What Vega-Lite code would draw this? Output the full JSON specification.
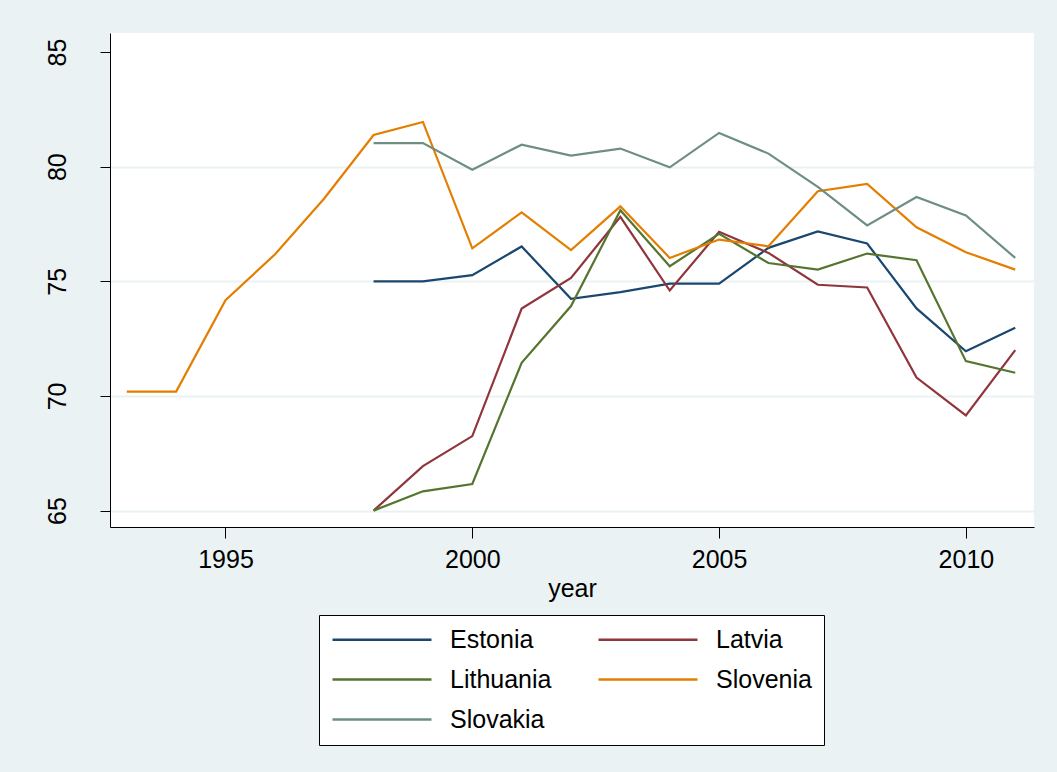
{
  "$schema": "https://vega.github.io/schema/vega-lite/v6.json",
  "autosize": {"type": "none"},
  "width": 924,
  "height": 494,
  "padding": {"left": 110, "top": 33, "right": 23, "bottom": 245},
  "background": "#EAF2F3",
  "config": {
    "view": {"fill": "white", "stroke": null},
    "font": "Liberation Sans",
    "axis": {
      "domainColor": "black",
      "domainWidth": 1,
      "tickColor": "black",
      "tickWidth": 1,
      "labelColor": "black",
      "titleColor": "black",
      "labelFont": "Liberation Sans",
      "titleFont": "Liberation Sans",
      "labelFontSize": 25,
      "titleFontSize": 25,
      "titleFontWeight": "normal",
      "gridColor": "#EAF2F3",
      "gridWidth": 2
    }
  },
  "data": {
    "values": [
      {"country": "Estonia", "year": 1998, "value": 75.0},
      {"country": "Estonia", "year": 1999, "value": 75.0},
      {"country": "Estonia", "year": 2000, "value": 75.27},
      {"country": "Estonia", "year": 2001, "value": 76.52},
      {"country": "Estonia", "year": 2002, "value": 74.24},
      {"country": "Estonia", "year": 2003, "value": 74.53},
      {"country": "Estonia", "year": 2004, "value": 74.9},
      {"country": "Estonia", "year": 2005, "value": 74.9},
      {"country": "Estonia", "year": 2006, "value": 76.46},
      {"country": "Estonia", "year": 2007, "value": 77.18},
      {"country": "Estonia", "year": 2008, "value": 76.65},
      {"country": "Estonia", "year": 2009, "value": 73.82},
      {"country": "Estonia", "year": 2010, "value": 71.95},
      {"country": "Estonia", "year": 2011, "value": 72.97},
      {"country": "Latvia", "year": 1998, "value": 65.0},
      {"country": "Latvia", "year": 1999, "value": 66.94},
      {"country": "Latvia", "year": 2000, "value": 68.25},
      {"country": "Latvia", "year": 2001, "value": 73.81},
      {"country": "Latvia", "year": 2002, "value": 75.15},
      {"country": "Latvia", "year": 2003, "value": 77.81},
      {"country": "Latvia", "year": 2004, "value": 74.6},
      {"country": "Latvia", "year": 2005, "value": 77.16},
      {"country": "Latvia", "year": 2006, "value": 76.24},
      {"country": "Latvia", "year": 2007, "value": 74.85},
      {"country": "Latvia", "year": 2008, "value": 74.73},
      {"country": "Latvia", "year": 2009, "value": 70.8},
      {"country": "Latvia", "year": 2010, "value": 69.15},
      {"country": "Latvia", "year": 2011, "value": 72.0},
      {"country": "Lithuania", "year": 1998, "value": 65.0},
      {"country": "Lithuania", "year": 1999, "value": 65.84},
      {"country": "Lithuania", "year": 2000, "value": 66.16},
      {"country": "Lithuania", "year": 2001, "value": 71.45},
      {"country": "Lithuania", "year": 2002, "value": 73.92},
      {"country": "Lithuania", "year": 2003, "value": 78.1},
      {"country": "Lithuania", "year": 2004, "value": 75.66},
      {"country": "Lithuania", "year": 2005, "value": 77.07},
      {"country": "Lithuania", "year": 2006, "value": 75.8},
      {"country": "Lithuania", "year": 2007, "value": 75.51},
      {"country": "Lithuania", "year": 2008, "value": 76.21},
      {"country": "Lithuania", "year": 2009, "value": 75.92},
      {"country": "Lithuania", "year": 2010, "value": 71.52},
      {"country": "Lithuania", "year": 2011, "value": 71.01},
      {"country": "Slovenia", "year": 1993, "value": 70.19},
      {"country": "Slovenia", "year": 1994, "value": 70.19},
      {"country": "Slovenia", "year": 1995, "value": 74.18},
      {"country": "Slovenia", "year": 1996, "value": 76.17},
      {"country": "Slovenia", "year": 1997, "value": 78.61},
      {"country": "Slovenia", "year": 1998, "value": 81.38},
      {"country": "Slovenia", "year": 1999, "value": 81.95},
      {"country": "Slovenia", "year": 2000, "value": 76.44},
      {"country": "Slovenia", "year": 2001, "value": 78.01},
      {"country": "Slovenia", "year": 2002, "value": 76.36},
      {"country": "Slovenia", "year": 2003, "value": 78.27},
      {"country": "Slovenia", "year": 2004, "value": 76.02},
      {"country": "Slovenia", "year": 2005, "value": 76.82},
      {"country": "Slovenia", "year": 2006, "value": 76.53},
      {"country": "Slovenia", "year": 2007, "value": 78.93},
      {"country": "Slovenia", "year": 2008, "value": 79.25},
      {"country": "Slovenia", "year": 2009, "value": 77.36},
      {"country": "Slovenia", "year": 2010, "value": 76.27},
      {"country": "Slovenia", "year": 2011, "value": 75.51},
      {"country": "Slovakia", "year": 1998, "value": 81.03},
      {"country": "Slovakia", "year": 1999, "value": 81.03},
      {"country": "Slovakia", "year": 2000, "value": 79.87},
      {"country": "Slovakia", "year": 2001, "value": 80.96},
      {"country": "Slovakia", "year": 2002, "value": 80.48},
      {"country": "Slovakia", "year": 2003, "value": 80.79},
      {"country": "Slovakia", "year": 2004, "value": 79.97},
      {"country": "Slovakia", "year": 2005, "value": 81.47},
      {"country": "Slovakia", "year": 2006, "value": 80.57},
      {"country": "Slovakia", "year": 2007, "value": 79.12},
      {"country": "Slovakia", "year": 2008, "value": 77.44},
      {"country": "Slovakia", "year": 2009, "value": 78.68},
      {"country": "Slovakia", "year": 2010, "value": 77.87},
      {"country": "Slovakia", "year": 2011, "value": 76.02}
    ]
  },
  "mark": {"type": "line", "strokeWidth": 2.2},
  "encoding": {
    "x": {
      "field": "year",
      "type": "quantitative",
      "scale": {"domain": [1992.66, 2011.38], "nice": false, "zero": false},
      "axis": {
        "title": "year",
        "values": [1995, 2000, 2005, 2010],
        "format": "d",
        "grid": false,
        "tickSize": 11,
        "labelPadding": 9,
        "titlePadding": 4
      }
    },
    "y": {
      "field": "value",
      "type": "quantitative",
      "scale": {"domain": [64.285, 85.83], "nice": false, "zero": false},
      "axis": {
        "title": null,
        "values": [65, 70, 75, 80, 85],
        "grid": true,
        "gridOpacity": {"condition": {"test": "datum.value == 85", "value": 0}, "value": 1},
        "tickSize": 10,
        "labelAngle": 270,
        "labelAlign": "center",
        "labelBaseline": "bottom",
        "labelPadding": 30
      }
    },
    "color": {
      "field": "country",
      "type": "nominal",
      "scale": {
        "domain": ["Estonia", "Latvia", "Lithuania", "Slovenia", "Slovakia"],
        "range": ["#1A476F", "#90353B", "#55752F", "#E37E00", "#6E8E84"]
      },
      "legend": {
        "title": null,
        "orient": "none",
        "legendX": 209,
        "legendY": 582,
        "direction": "horizontal",
        "columns": 2,
        "columnPadding": 45,
        "rowPadding": 14,
        "padding": 12,
        "clipHeight": 25,
        "strokeColor": "black",
        "fillColor": "white",
        "symbolType": "stroke",
        "symbolSize": 9801,
        "symbolStrokeWidth": 2.5,
        "labelOffset": 17,
        "labelFontSize": 25,
        "labelFont": "Liberation Sans",
        "labelColor": "black",
        "labelLimit": 300
      }
    }
  }
}
